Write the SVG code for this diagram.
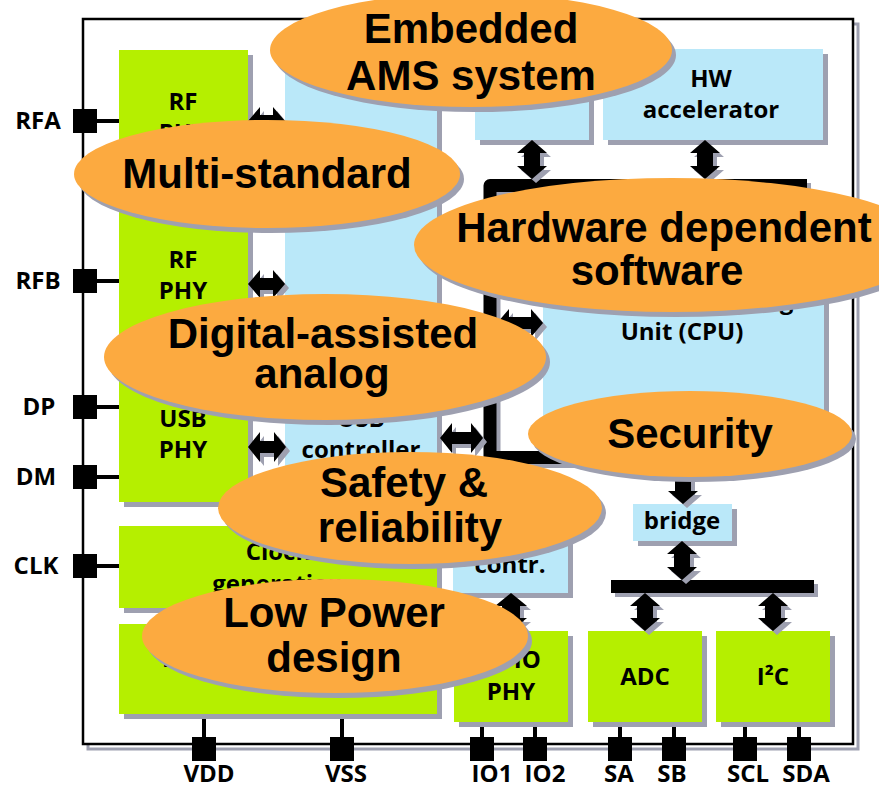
<svg xmlns="http://www.w3.org/2000/svg" width="879" height="788" viewBox="0 0 879 788">
<style>
.g{fill:#B5EF00}
.b{fill:#BAE8F9}
.sh{fill:#9EA0B0}
.t{font-family:"Open Sans","Liberation Sans",sans-serif;font-weight:bold;font-size:24px;fill:#000;text-anchor:middle}
.e{fill:#FCAA40}
.et{font-family:"Liberation Sans",Arial,sans-serif;font-weight:bold;font-size:42px;fill:#000;text-anchor:middle}
.ar{fill:#000}
.pin{fill:#000}
.pl{stroke:#000;stroke-width:4;fill:none}
</style>
<rect x="0" y="0" width="879" height="788" fill="#fff"/>
<g id="chip">
<rect x="88" y="24" width="770" height="725" fill="none" stroke="#9EA0B0" stroke-width="3"/>
<rect x="83" y="19" width="770" height="725" fill="#fff" stroke="#000" stroke-width="2.5"/>
</g>
<g id="pins">
<path class="pl" d="M97,121H119 M97,281H119 M97,407H119 M97,477H119 M97,566H119 M204,737V714 M342,737V714 M482,737V722 M535,737V722 M620,737V722 M674,737V722 M745,737V722 M799,737V722"/>
<rect class="pin" x="73" y="109" width="24" height="24"/>
<rect class="pin" x="73" y="269" width="24" height="24"/>
<rect class="pin" x="73" y="395" width="24" height="24"/>
<rect class="pin" x="73" y="465" width="24" height="24"/>
<rect class="pin" x="73" y="554" width="24" height="24"/>
<rect class="pin" x="192" y="737" width="24" height="24"/>
<rect class="pin" x="330" y="737" width="24" height="24"/>
<rect class="pin" x="470" y="737" width="24" height="24"/>
<rect class="pin" x="523" y="737" width="24" height="24"/>
<rect class="pin" x="608" y="737" width="24" height="24"/>
<rect class="pin" x="662" y="737" width="24" height="24"/>
<rect class="pin" x="733" y="737" width="24" height="24"/>
<rect class="pin" x="787" y="737" width="24" height="24"/>
<text class="t" x="38" y="129">RFA</text>
<text class="t" x="38" y="289">RFB</text>
<text class="t" x="39" y="415">DP</text>
<text class="t" x="36" y="485">DM</text>
<text class="t" x="36" y="574">CLK</text>
<text class="t" x="209" y="782">VDD</text>
<text class="t" x="346" y="782">VSS</text>
<text class="t" x="492" y="782">IO1</text>
<text class="t" x="545" y="782">IO2</text>
<text class="t" x="619" y="782">SA</text>
<text class="t" x="672" y="782">SB</text>
<text class="t" x="748" y="782">SCL</text>
<text class="t" x="806" y="782">SDA</text>
</g>
<g id="rfphy-a"><rect class="sh" x="124" y="55" width="129" height="135"/><rect class="g" x="119" y="50" width="129" height="135"/><text class="t" x="183" y="110">RF</text><text class="t" x="183" y="141">PHY</text></g>
<g id="rfphy-b"><rect class="sh" x="124" y="210" width="129" height="140"/><rect class="g" x="119" y="205" width="129" height="140"/><text class="t" x="183" y="268">RF</text><text class="t" x="183" y="299">PHY</text></g>
<g id="usbphy"><rect class="sh" x="124" y="373" width="129" height="134"/><rect class="g" x="119" y="368" width="129" height="134"/><text class="t" x="183" y="427">USB</text><text class="t" x="183" y="458">PHY</text></g>
<g id="clockgen"><rect class="sh" x="124" y="531" width="318" height="82"/><rect class="g" x="119" y="526" width="318" height="82"/><text class="t" x="278" y="560">Clock</text><text class="t" x="278" y="592">generation</text></g>
<g id="power"><rect class="sh" x="124" y="629" width="318" height="90"/><rect class="g" x="119" y="624" width="318" height="90"/><text class="t" x="162" y="667" style="text-anchor:start">Power management</text></g>
<g id="rfctrl"><rect class="sh" x="290" y="55" width="152" height="295"/><rect class="b" x="285" y="50" width="152" height="295"/></g>
<g id="usbctrl"><rect class="sh" x="290" y="370" width="152" height="137"/><rect class="b" x="285" y="365" width="152" height="137"/><text class="t" x="361" y="427">USB</text><text class="t" x="361" y="458">controller</text></g>
<g id="mem"><rect class="sh" x="480" y="54" width="114" height="91"/><rect class="b" x="475" y="49" width="114" height="91"/></g>
<g id="hwacc"><rect class="sh" x="608" y="54" width="220" height="91"/><rect class="b" x="603" y="49" width="220" height="91"/><text class="t" x="711" y="87">HW</text><text class="t" x="711" y="118">accelerator</text></g>
<g id="cpu"><rect class="sh" x="548" y="210" width="281" height="240"/><rect class="b" x="543" y="205" width="281" height="240"/><text class="t" x="682" y="309">Central Processing</text><text class="t" x="682" y="340">Unit (CPU)</text></g>
<g id="gpioctrl"><rect class="sh" x="458" y="505" width="115" height="93"/><rect class="b" x="453" y="500" width="115" height="93"/><text class="t" x="510" y="542">GPIO</text><text class="t" x="510" y="573">contr.</text></g>
<g id="bridge"><rect class="sh" x="638" y="509" width="99" height="37"/><rect class="b" x="633" y="504" width="99" height="37"/><text class="t" x="682" y="529">bridge</text></g>
<g id="gpiophy"><rect class="sh" x="459" y="636" width="114" height="91"/><rect class="g" x="454" y="631" width="114" height="91"/><text class="t" x="511" y="668">GPIO</text><text class="t" x="511" y="700">PHY</text></g>
<g id="adc"><rect class="sh" x="593" y="636" width="114" height="91"/><rect class="g" x="588" y="631" width="114" height="91"/><text class="t" x="645" y="685">ADC</text></g>
<g id="i2c"><rect class="sh" x="721" y="636" width="114" height="91"/><rect class="g" x="716" y="631" width="114" height="91"/><text class="t" x="773" y="685">I²C</text></g>
<g id="connectors">
<path d="M811,189.5H494V461.5H694" fill="none" stroke="#9EA0B0" stroke-width="13" stroke-linejoin="round"/>
<path d="M807,185.5H490V457.5H690" fill="none" stroke="#000" stroke-width="13" stroke-linejoin="round"/>
<rect class="sh" x="615" y="584" width="203" height="13"/>
<rect class="ar" x="611" y="580" width="203" height="13"/>
<g transform="translate(4,4)" class="sh">
<path d="M248,121l12,-14v8h13v-8l12,14l-12,14v-8h-13v8z"/>
<path d="M248,284l12,-14v8h13v-8l12,14l-12,14v-8h-13v8z"/>
<path d="M248,447l12,-15v9h14v-9l12,15l-12,15v-9h-14v9z"/>
<path d="M440,438l12,-15v9h19v-9l12,15l-12,15v-9h-19v9z"/>
<path d="M497,323l12,-14v8h22v-8l12,14l-12,14v-8h-22v8z"/>
<path d="M532,140l15,13h-7v13h7l-15,13l-15,-13h7v-13h-7z"/>
<path d="M705,140l15,13h-7v13h7l-15,13l-15,-13h7v-13h-7z"/>
<path d="M683,463l15,13h-7v15h7l-15,13l-15,-13h7v-15h-7z"/>
<path d="M682,541l15,13h-7v13h7l-15,13l-15,-13h7v-13h-7z"/>
<path d="M645,593l15,13h-7v12h7l-15,13l-15,-13h7v-12h-7z"/>
<path d="M773,593l15,13h-7v12h7l-15,13l-15,-13h7v-12h-7z"/>
<path d="M511,593l16,13h-7v12h7l-16,13l-16,-13h7v-12h-7z"/>
</g>
<g class="ar">
<path d="M248,121l12,-14v8h13v-8l12,14l-12,14v-8h-13v8z"/>
<path d="M248,284l12,-14v8h13v-8l12,14l-12,14v-8h-13v8z"/>
<path d="M248,447l12,-15v9h14v-9l12,15l-12,15v-9h-14v9z"/>
<path d="M440,438l12,-15v9h19v-9l12,15l-12,15v-9h-19v9z"/>
<path d="M497,323l12,-14v8h22v-8l12,14l-12,14v-8h-22v8z"/>
<path d="M532,140l15,13h-7v13h7l-15,13l-15,-13h7v-13h-7z"/>
<path d="M705,140l15,13h-7v13h7l-15,13l-15,-13h7v-13h-7z"/>
<path d="M683,463l15,13h-7v15h7l-15,13l-15,-13h7v-15h-7z"/>
<path d="M682,541l15,13h-7v13h7l-15,13l-15,-13h7v-13h-7z"/>
<path d="M645,593l15,13h-7v12h7l-15,13l-15,-13h7v-12h-7z"/>
<path d="M773,593l15,13h-7v12h7l-15,13l-15,-13h7v-12h-7z"/>
<path d="M511,593l16,13h-7v12h7l-16,13l-16,-13h7v-12h-7z"/>
</g>
</g>
<g id="ell-ams"><ellipse class="sh" cx="475" cy="55" rx="201" ry="57"/><ellipse class="e" cx="471" cy="50" rx="201" ry="57"/><text class="et" x="471" y="43">Embedded</text><text class="et" x="471" y="90">AMS system</text></g>
<g id="ell-multi"><ellipse class="sh" cx="271" cy="179" rx="193" ry="54"/><ellipse class="e" cx="267" cy="174" rx="193" ry="54"/><text class="et" x="267" y="188">Multi-standard</text></g>
<g id="ell-hds"><ellipse class="sh" cx="676" cy="250" rx="258" ry="67"/><ellipse class="e" cx="672" cy="245" rx="258" ry="67"/><text class="et" x="664" y="242">Hardware dependent</text><text class="et" x="657" y="285">software</text></g>
<g id="ell-daa"><ellipse class="sh" cx="329" cy="362" rx="221" ry="63"/><ellipse class="e" cx="325" cy="357" rx="221" ry="63"/><text class="et" x="323" y="348">Digital-assisted</text><text class="et" x="322" y="388">analog</text></g>
<g id="ell-sec"><ellipse class="sh" cx="694" cy="439" rx="162" ry="43"/><ellipse class="e" cx="690" cy="434" rx="162" ry="43"/><text class="et" x="690" y="448">Security</text></g>
<g id="ell-safe"><ellipse class="sh" cx="414" cy="513" rx="192" ry="56"/><ellipse class="e" cx="410" cy="508" rx="192" ry="56"/><text class="et" x="404" y="497">Safety &amp;</text><text class="et" x="410" y="542">reliability</text></g>
<g id="ell-lp"><ellipse class="sh" cx="339" cy="641" rx="193" ry="57"/><ellipse class="e" cx="335" cy="636" rx="193" ry="57"/><text class="et" x="334" y="627">Low Power</text><text class="et" x="334" y="672">design</text></g>
</svg>
